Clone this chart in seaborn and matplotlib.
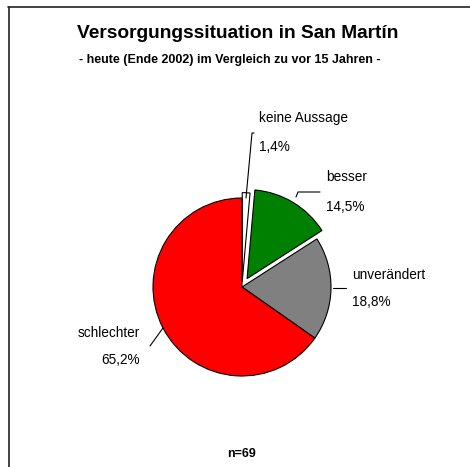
import matplotlib
matplotlib.use("Agg")
import matplotlib.pyplot as plt
from matplotlib.lines import Line2D
import seaborn as sns

# Daten
kategorien = ["keine Aussage", "besser", "unverändert", "schlechter"]
anteile = [1.4, 14.5, 18.8, 65.2]
prozent_labels = ["1,4%", "14,5%", "18,8%", "65,2%"]
farben = ["#FFFFFF", "#008000", "#808080", "#FF0000"]
explode = [0.06, 0.11, 0.0, 0.0]
titel = "Versorgungssituation in San Martín"
untertitel = "- heute (Ende 2002) im Vergleich zu vor 15 Jahren -"
fusszeile = "n=69"

sns.set_theme(style="white")
plt.rcParams["font.family"] = ["Liberation Sans", "DejaVu Sans"]
plt.rcParams["text.color"] = "black"

W, H = 470, 467
fig = plt.figure(figsize=(W / 100, H / 100), dpi=100)
fig.patch.set_facecolor("white")

def fx(px):
    return px / W

def fy(py):
    return 1 - py / H

# Rahmen (nur oben und links sichtbar)
fig.add_artist(Line2D([fx(8), 1], [fy(7), fy(7)], color="#222222", lw=1.2))
fig.add_artist(Line2D([fx(8.5), fx(8.5)], [0, fy(7)], color="#222222", lw=1.2))

fig.text(fx(238), fy(34), titel, ha="center", va="center", fontsize=13.8,
         fontweight="bold", color="black")
fig.text(fx(230), fy(60), untertitel, ha="center", va="center", fontsize=9,
         fontweight="bold", color="black")
fig.text(fx(241), fy(454), fusszeile, ha="center", va="center", fontsize=9,
         fontweight="bold", color="black")

# Kreisdiagramm
cx, cy, R, k = 242, 287, 89, 1.25
ax = fig.add_axes([fx(cx - R * k), fy(cy + R * k), 2 * R * k / W, 2 * R * k / H])
ax.pie(anteile, colors=farben, explode=explode, startangle=90, counterclock=False,
       radius=1, wedgeprops=dict(edgecolor="black", linewidth=0.8))
ax.set_xlim(-k, k)
ax.set_ylim(-k, k)
ax.set_axis_off()

# Beschriftungen
lab_pos = [(259, 118, 147, "left"), (326, 177, 207, "left"),
           (352, 275, 302, "left"), (140, 333, 360, "right")]
for name, pct, (x, y1, y2, ha) in zip(kategorien, prozent_labels, lab_pos):
    fig.text(fx(x), fy(y1), name, ha=ha, va="center", fontsize=9.8, color="black")
    fig.text(fx(x), fy(y2), pct, ha=ha, va="center", fontsize=9.8, color="black")

# Führungslinien
leader = [
    [(254, 133), (252, 133), (246, 198)],
    [(320, 192), (298, 192), (296, 197)],
    [(346, 288), (333, 288)],
    [(150, 346), (163, 328)],
]
for pts in leader:
    xs = [fx(p[0]) for p in pts]
    ys = [fy(p[1]) for p in pts]
    fig.add_artist(Line2D(xs, ys, color="black", lw=0.8))

fig.savefig("out.png", dpi=100)
